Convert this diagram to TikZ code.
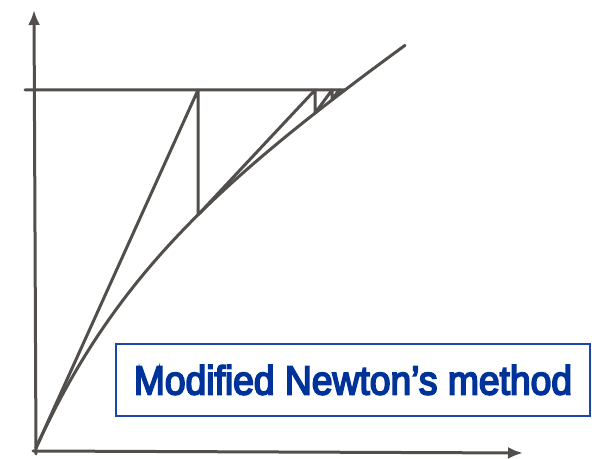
\documentclass[tikz,border=0pt]{standalone}
\usepackage{fontspec}
\newfontfamily\labelfont[FakeBold=4.5]{Liberation Sans}
\usetikzlibrary{arrows.meta,intersections,calc}
\definecolor{pencil}{RGB}{82,78,74}
\definecolor{labelblue}{RGB}{0,51,153}
\definecolor{boxblue}{RGB}{30,70,170}
\begin{document}
\begin{tikzpicture}[x=1bp,y=1bp,
  pencilline/.style={draw=pencil, line width=3bp, line cap=round, line join=round},
  axisarrow/.style={pencilline, -{Latex[length=15bp,width=12bp]}},
  labelbox/.style={draw=boxblue, line width=1.5bp, minimum width=474bp, minimum height=72bp,
    inner sep=0pt, text=labelblue, font=\labelfont\fontsize{40.5bp}{44bp}\selectfont}]
\useasboundingbox (0,0) rectangle (592,459);
% axes
\coordinate (ybase) at (36,5);
\coordinate (ytip) at (34,449);
\coordinate (xbase) at (33,8);
\coordinate (xtip) at (523,6);
\draw[axisarrow] (ybase) -- (ytip);
\draw[axisarrow] (xbase) -- (xtip);
% curve
\coordinate (O) at (36,11);
\draw[pencilline, name path=curve] plot[domain=0:369, samples=120]
  ({36+\x},{11+0.693*\x+150.7*(1-exp(-\x/100))});
% load level
\coordinate (L0) at (25,369);
\path[name path=load] (L0) -- (430,369);
\path[name intersections={of=curve and load, by=Lc}];
\draw[pencilline] (L0) -- (Lc);
% iterations
\coordinate (t1) at (198,369);
\coordinate (t2) at (315,369);
\coordinate (t3) at (332,369);
\coordinate (t4) at (339,369);
\path[name path=v1] (t1) -- (198,150);
\path[name path=v2] (t2) -- (315,250);
\path[name path=v3] (t3) -- (332,300);
\path[name path=v4] (t4) -- (339,330);
\path[name intersections={of=curve and v1, by=c1}];
\path[name intersections={of=curve and v2, by=c2}];
\path[name intersections={of=curve and v3, by=c3}];
\path[name intersections={of=curve and v4, by=c4}];
\draw[pencilline] (O) -- (t1) -- (c1) -- (t2) -- (c2) -- (t3) -- (c3) -- (t4) -- (c4);
% label
\node[labelbox] (label) at (353,79) {\scalebox{0.92}[1]{Modified Newton’s method}};
\end{tikzpicture}
\end{document}
